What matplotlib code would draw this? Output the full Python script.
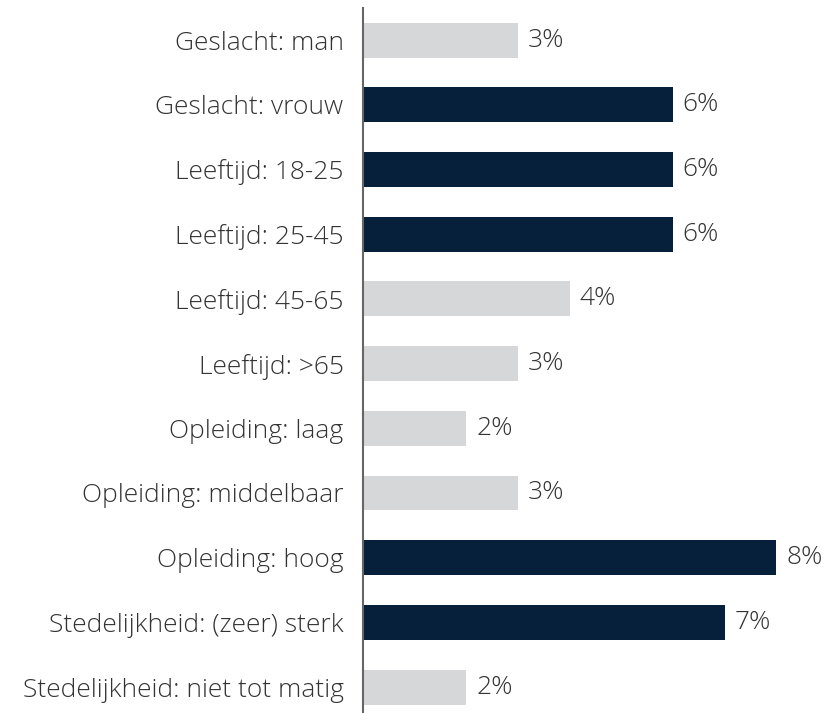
import matplotlib.pyplot as plt

# Data
categories = ['Geslacht: man', 'Geslacht: vrouw', 'Leeftijd: 18-25', 'Leeftijd: 25-45',
              'Leeftijd: 45-65', 'Leeftijd: >65', 'Opleiding: laag', 'Opleiding: middelbaar',
              'Opleiding: hoog', 'Stedelijkheid: (zeer) sterk', 'Stedelijkheid: niet tot matig']
values = [3, 6, 6, 6, 4, 3, 2, 3, 8, 7, 2]
highlight = [False, True, True, True, False, False, False, False, True, True, False]

dark = '#06203b'
light = '#d6d7d9'
text_color = '#333333'

plt.rcParams['font.family'] = ['Open Sans', 'DejaVu Sans']

fig = plt.figure(figsize=(8.26, 7.13), dpi=100)
ax = fig.add_axes([363 / 826, 0, 1 - 363 / 826, 705 / 713])

colors = [dark if h else light for h in highlight]
pos = list(range(len(categories)))
ax.barh(pos, values, height=0.54, color=colors)

for p, v in zip(pos, values):
    ax.text(v + 0.19, p, f'{v}%', va='center', ha='left', fontsize=19,
            color=text_color, fontweight='light')

ax.set_yticks(pos)
ax.set_yticklabels(categories, fontsize=19, color=text_color, fontweight='light')
ax.tick_params(axis='y', length=0, pad=14)
ax.set_xticks([])
ax.set_xlim(0, 8.96)
ax.set_ylim(10.40, -0.495)

for s in ['top', 'right', 'bottom']:
    ax.spines[s].set_visible(False)
ax.spines['left'].set_color('#666666')
ax.spines['left'].set_linewidth(1.5)

fig.savefig('out.png', dpi=100)
